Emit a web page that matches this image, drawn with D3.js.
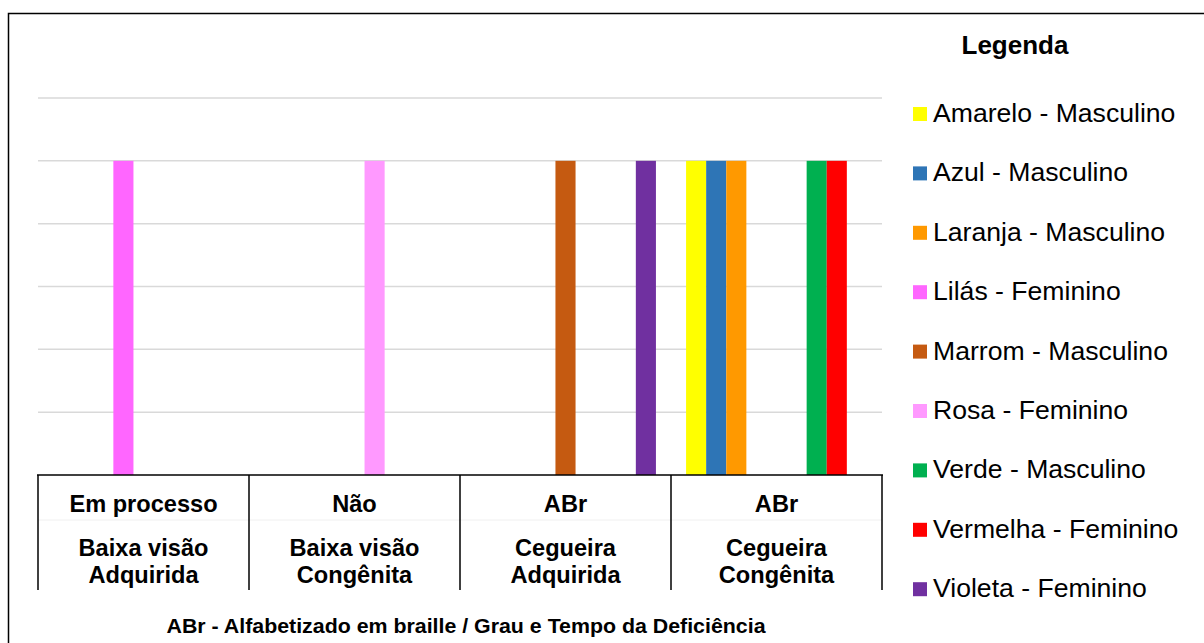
<!DOCTYPE html>
<html>
<head>
<meta charset="utf-8">
<script src="https://cdn.jsdelivr.net/npm/d3@7"></script>
<style>
  html, body { margin: 0; padding: 0; background: #fff; }
  svg { display: block; font-family: "Liberation Sans", Arial, sans-serif; }
</style>
</head>
<body>
<svg id="chart" width="1204" height="643"></svg>
<script>
// Category labels: top tier (literacy) and bottom tier (degree / onset of deficiency)
const literacy = ["Em processo", "Não", "ABr", "ABr"];
const deficiency = [["Baixa visão", "Adquirida"], ["Baixa visão", "Congênita"], ["Cegueira", "Adquirida"], ["Cegueira", "Congênita"]];

// Series (legend order) and their colours
const seriesNames = ["Amarelo - Masculino", "Azul - Masculino", "Laranja - Masculino", "Lilás - Feminino",
  "Marrom - Masculino", "Rosa - Feminino", "Verde - Masculino", "Vermelha - Feminino", "Violeta - Feminino"];
const seriesColors = ["#FFFF00", "#2E75B6", "#FF9900", "#FF66FF", "#C55A11", "#FF99FF", "#00B050", "#FF0000", "#7030A0"];

// Values per series, one per category
const amarelo  = [0, 0, 0, 1];
const azul     = [0, 0, 0, 1];
const laranja  = [0, 0, 0, 1];
const lilas    = [1, 0, 0, 0];
const marrom   = [0, 0, 1, 0];
const rosa     = [0, 1, 0, 0];
const verde    = [0, 0, 0, 1];
const vermelha = [0, 0, 0, 1];
const violeta  = [0, 0, 1, 0];
const seriesValues = [amarelo, azul, laranja, lilas, marrom, rosa, verde, vermelha, violeta];

const yTicks = [0.2, 0.4, 0.6, 0.8, 1.0, 1.2];

const svg = d3.select("#chart");
const plot = { left: 38, right: 882, top: 98, bottom: 475 };

// Outer frame
svg.append("rect")
  .attr("x", 8.5).attr("y", 13.5).attr("width", 1300).attr("height", 700)
  .attr("fill", "none").attr("stroke", "#000").attr("stroke-width", 1.5);

const cats = d3.range(literacy.length);
const x0 = d3.scaleBand().domain(cats).range([plot.left, plot.right]).padding(0);
const x1 = d3.scaleBand().domain(d3.range(seriesNames.length))
  .range([0, x0.bandwidth()]).paddingInner(0).paddingOuter(0.75);
const y = d3.scaleLinear().domain([0, 1.2]).range([plot.bottom, plot.top]);

// Gridlines
svg.append("g").selectAll("line").data(yTicks).join("line")
  .attr("x1", plot.left).attr("x2", plot.right)
  .attr("y1", d => y(d)).attr("y2", d => y(d))
  .attr("stroke", "#d9d9d9").attr("stroke-width", 1.5);

// Bars
const rows = [];
cats.forEach(c => seriesValues.forEach((vals, s) => {
  if (vals[c] > 0) rows.push({ c, s, v: vals[c] });
}));
svg.append("g").selectAll("rect").data(rows).join("rect")
  .attr("x", d => x0(d.c) + x1(d.s))
  .attr("width", x1.bandwidth())
  .attr("y", d => y(d.v))
  .attr("height", d => y(0) - y(d.v))
  .attr("fill", d => seriesColors[d.s]);

// Faint divider between the two label tiers
svg.append("line")
  .attr("x1", plot.left).attr("x2", plot.right).attr("y1", 520).attr("y2", 520)
  .attr("stroke", "#f0f0f0").attr("stroke-width", 1);

// Category axis: baseline and group separators
svg.append("line")
  .attr("x1", plot.left - 1).attr("x2", plot.right + 1)
  .attr("y1", y(0)).attr("y2", y(0))
  .attr("stroke", "#000").attr("stroke-width", 1.5);
const seps = cats.map(c => x0(c)).concat([plot.right]);
svg.append("g").selectAll("line").data(seps).join("line")
  .attr("x1", d => d).attr("x2", d => d)
  .attr("y1", y(0)).attr("y2", 590)
  .attr("stroke", "#000").attr("stroke-width", 1.5);

const lab = svg.append("g").attr("font-weight", "bold").attr("font-size", 23.6)
  .attr("text-anchor", "middle").attr("fill", "#000");
cats.forEach(c => {
  const cx = x0(c) + x0.bandwidth() / 2;
  lab.append("text").attr("x", cx).attr("y", 512).text(literacy[c]);
  lab.append("text").attr("x", cx).attr("y", 556).text(deficiency[c][0]);
  lab.append("text").attr("x", cx).attr("y", 583).text(deficiency[c][1]);
});

// Axis title
svg.append("text")
  .attr("x", 466).attr("y", 633).attr("text-anchor", "middle")
  .attr("font-weight", "bold").attr("font-size", 20)
  .attr("textLength", 599).attr("lengthAdjust", "spacingAndGlyphs")
  .text("ABr - Alfabetizado em braille / Grau e Tempo da Deficiência");

// Legend
svg.append("text")
  .attr("x", 1015).attr("y", 54).attr("text-anchor", "middle")
  .attr("font-weight", "bold").attr("font-size", 26)
  .text("Legenda");
const leg = svg.append("g").selectAll("g").data(seriesNames).join("g")
  .attr("transform", (d, i) => `translate(913, ${122 + i * 59.4})`);
leg.append("rect").attr("x", 0).attr("y", -15).attr("width", 14).attr("height", 14)
  .attr("fill", (d, i) => seriesColors[i]);
leg.append("text").attr("x", 20).attr("y", 0).attr("font-size", 26.6).text(d => d);
</script>
</body>
</html>
